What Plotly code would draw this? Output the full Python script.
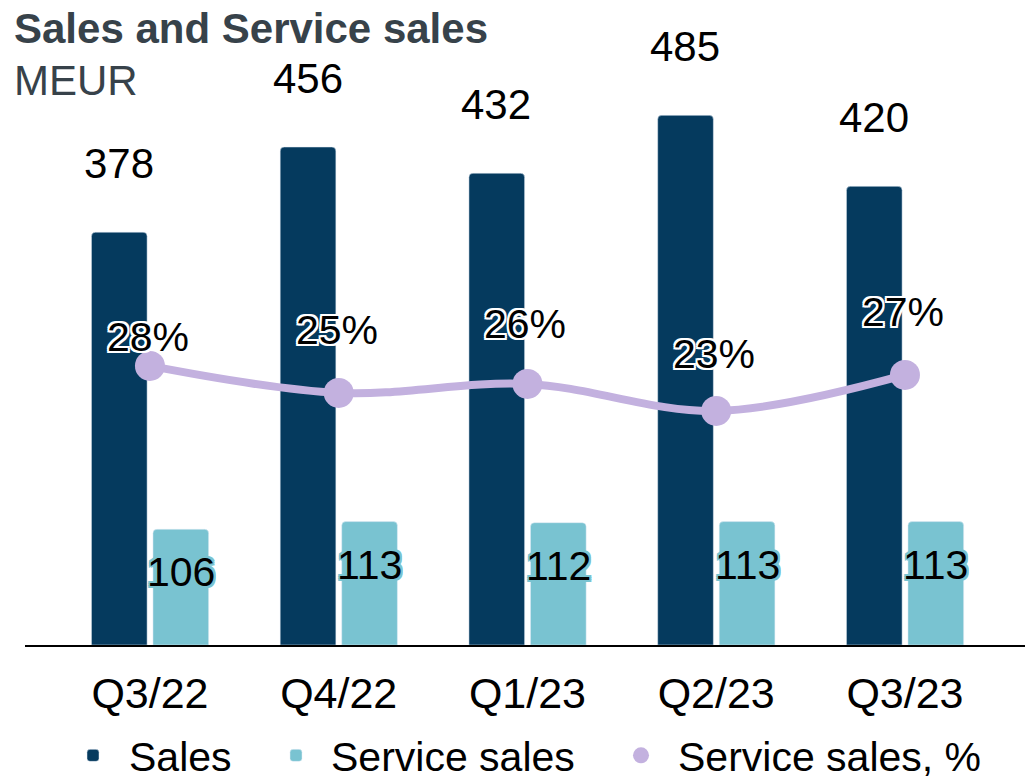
import plotly.graph_objects as go

categories = ["Q3/22", "Q4/22", "Q1/23", "Q2/23", "Q3/23"]
sales = [378, 456, 432, 485, 420]
service_sales = [106, 113, 112, 113, 113]
service_pct = [28, 25, 26, 23, 27]

C_SALES = "#053a5e"
C_SERV = "#79c3d1"
C_PCT = "#c3b1df"
FONT = "Liberation Sans, Arial, sans-serif"

white_halo = ("2px 0 0 #fff, -2px 0 0 #fff, 0 2px 0 #fff, 0 -2px 0 #fff, "
              "2px 2px 0 #fff, -2px -2px 0 #fff, 2px -2px 0 #fff, -2px 2px 0 #fff")
teal_halo = white_halo.replace("#fff", C_SERV)

# label callout offsets (px) for the percentage labels
pct_label_dy = [-29, -63, -60, -57, -63]

fig = go.Figure()
fig.add_trace(go.Bar(x=categories, y=sales, name="Sales", marker_color=C_SALES,
                     width=0.295, offset=-0.31, marker_cornerradius=4, legend="legend"))
fig.add_trace(go.Bar(x=categories, y=service_sales, name="Service sales", marker_color=C_SERV,
                     width=0.295, offset=0.016, marker_cornerradius=4, legend="legend2"))
fig.add_trace(go.Scatter(x=categories, y=service_pct, yaxis="y2", mode="lines", showlegend=False,
                         line=dict(color=C_PCT, width=8, shape="spline"), hoverinfo="skip"))
fig.add_trace(go.Scatter(x=categories, y=service_pct, name="Service sales, %", yaxis="y2",
                         mode="markers", marker=dict(color=C_PCT, size=30),
                         legend="legend3"))

ann = []
for c, v in zip(categories, sales):
    ann.append(dict(x=c, y=v, xref="x", yref="y", text=str(v), showarrow=False,
                    xshift=-31, yshift=69, font=dict(family=FONT, size=42, color="#000", shadow=white_halo)))
for c, v in zip(categories, service_sales):
    ann.append(dict(x=c, y=v, xref="x", yref="y", text=str(v), showarrow=False,
                    xshift=31, yshift=-43, font=dict(family=FONT, size=41, color="#000", shadow=teal_halo)))
for c, v, dy in zip(categories, service_pct, pct_label_dy):
    ann.append(dict(x=c, y=v, xref="x", yref="y2", text=f"{v}%", showarrow=True, arrowhead=0,
                    arrowwidth=1, arrowcolor="#ffffff", ax=-2, ay=dy, standoff=15,
                    font=dict(family=FONT, size=41, color="#000", shadow=white_halo)))
ann.append(dict(text="MEUR", xref="paper", yref="paper", x=-0.0135, y=(645 - 80) / 605,
                xanchor="left", yanchor="middle", showarrow=False,
                font=dict(family=FONT, size=42, color="#37424a")))

leg = dict(orientation="h", y=-0.183, yanchor="middle", xanchor="left",
           font=dict(family=FONT, size=41, color="#000"), itemsizing="trace",
           bgcolor="rgba(0,0,0,0)")

fig.update_layout(
    width=1025, height=779,
    margin=dict(l=25, r=0, t=40, b=134, autoexpand=False),
    paper_bgcolor="white", plot_bgcolor="white",
    font=dict(family=FONT, size=41, color="#000"),
    title=dict(text="<b>Sales and Service sales</b>", x=14/1025, xanchor="left",
               xref="container", y=1 - 28/779, yanchor="middle", yref="container",
               font=dict(family=FONT, size=42, color="#37424a")),
    xaxis=dict(type="category", range=[-0.662, 4.636], showline=True, linecolor="#000", linewidth=2,
               showgrid=False, ticks="", ticklabelstandoff=9, tickfont=dict(size=43, color="#000")),
    yaxis=dict(range=[0, 554], visible=False),
    yaxis2=dict(range=[-3, 64.2], overlaying="y", visible=False),
    showlegend=True,
    legend=dict(leg, x=0.032, itemwidth=62),
    legend2=dict(leg, x=0.236, itemwidth=60),
    legend3=dict(leg, x=0.579, itemwidth=64),
    annotations=ann,
)

fig.write_html("out.html", config={"displayModeBar": False},
               post_script="document.body.style.margin='0px';")
